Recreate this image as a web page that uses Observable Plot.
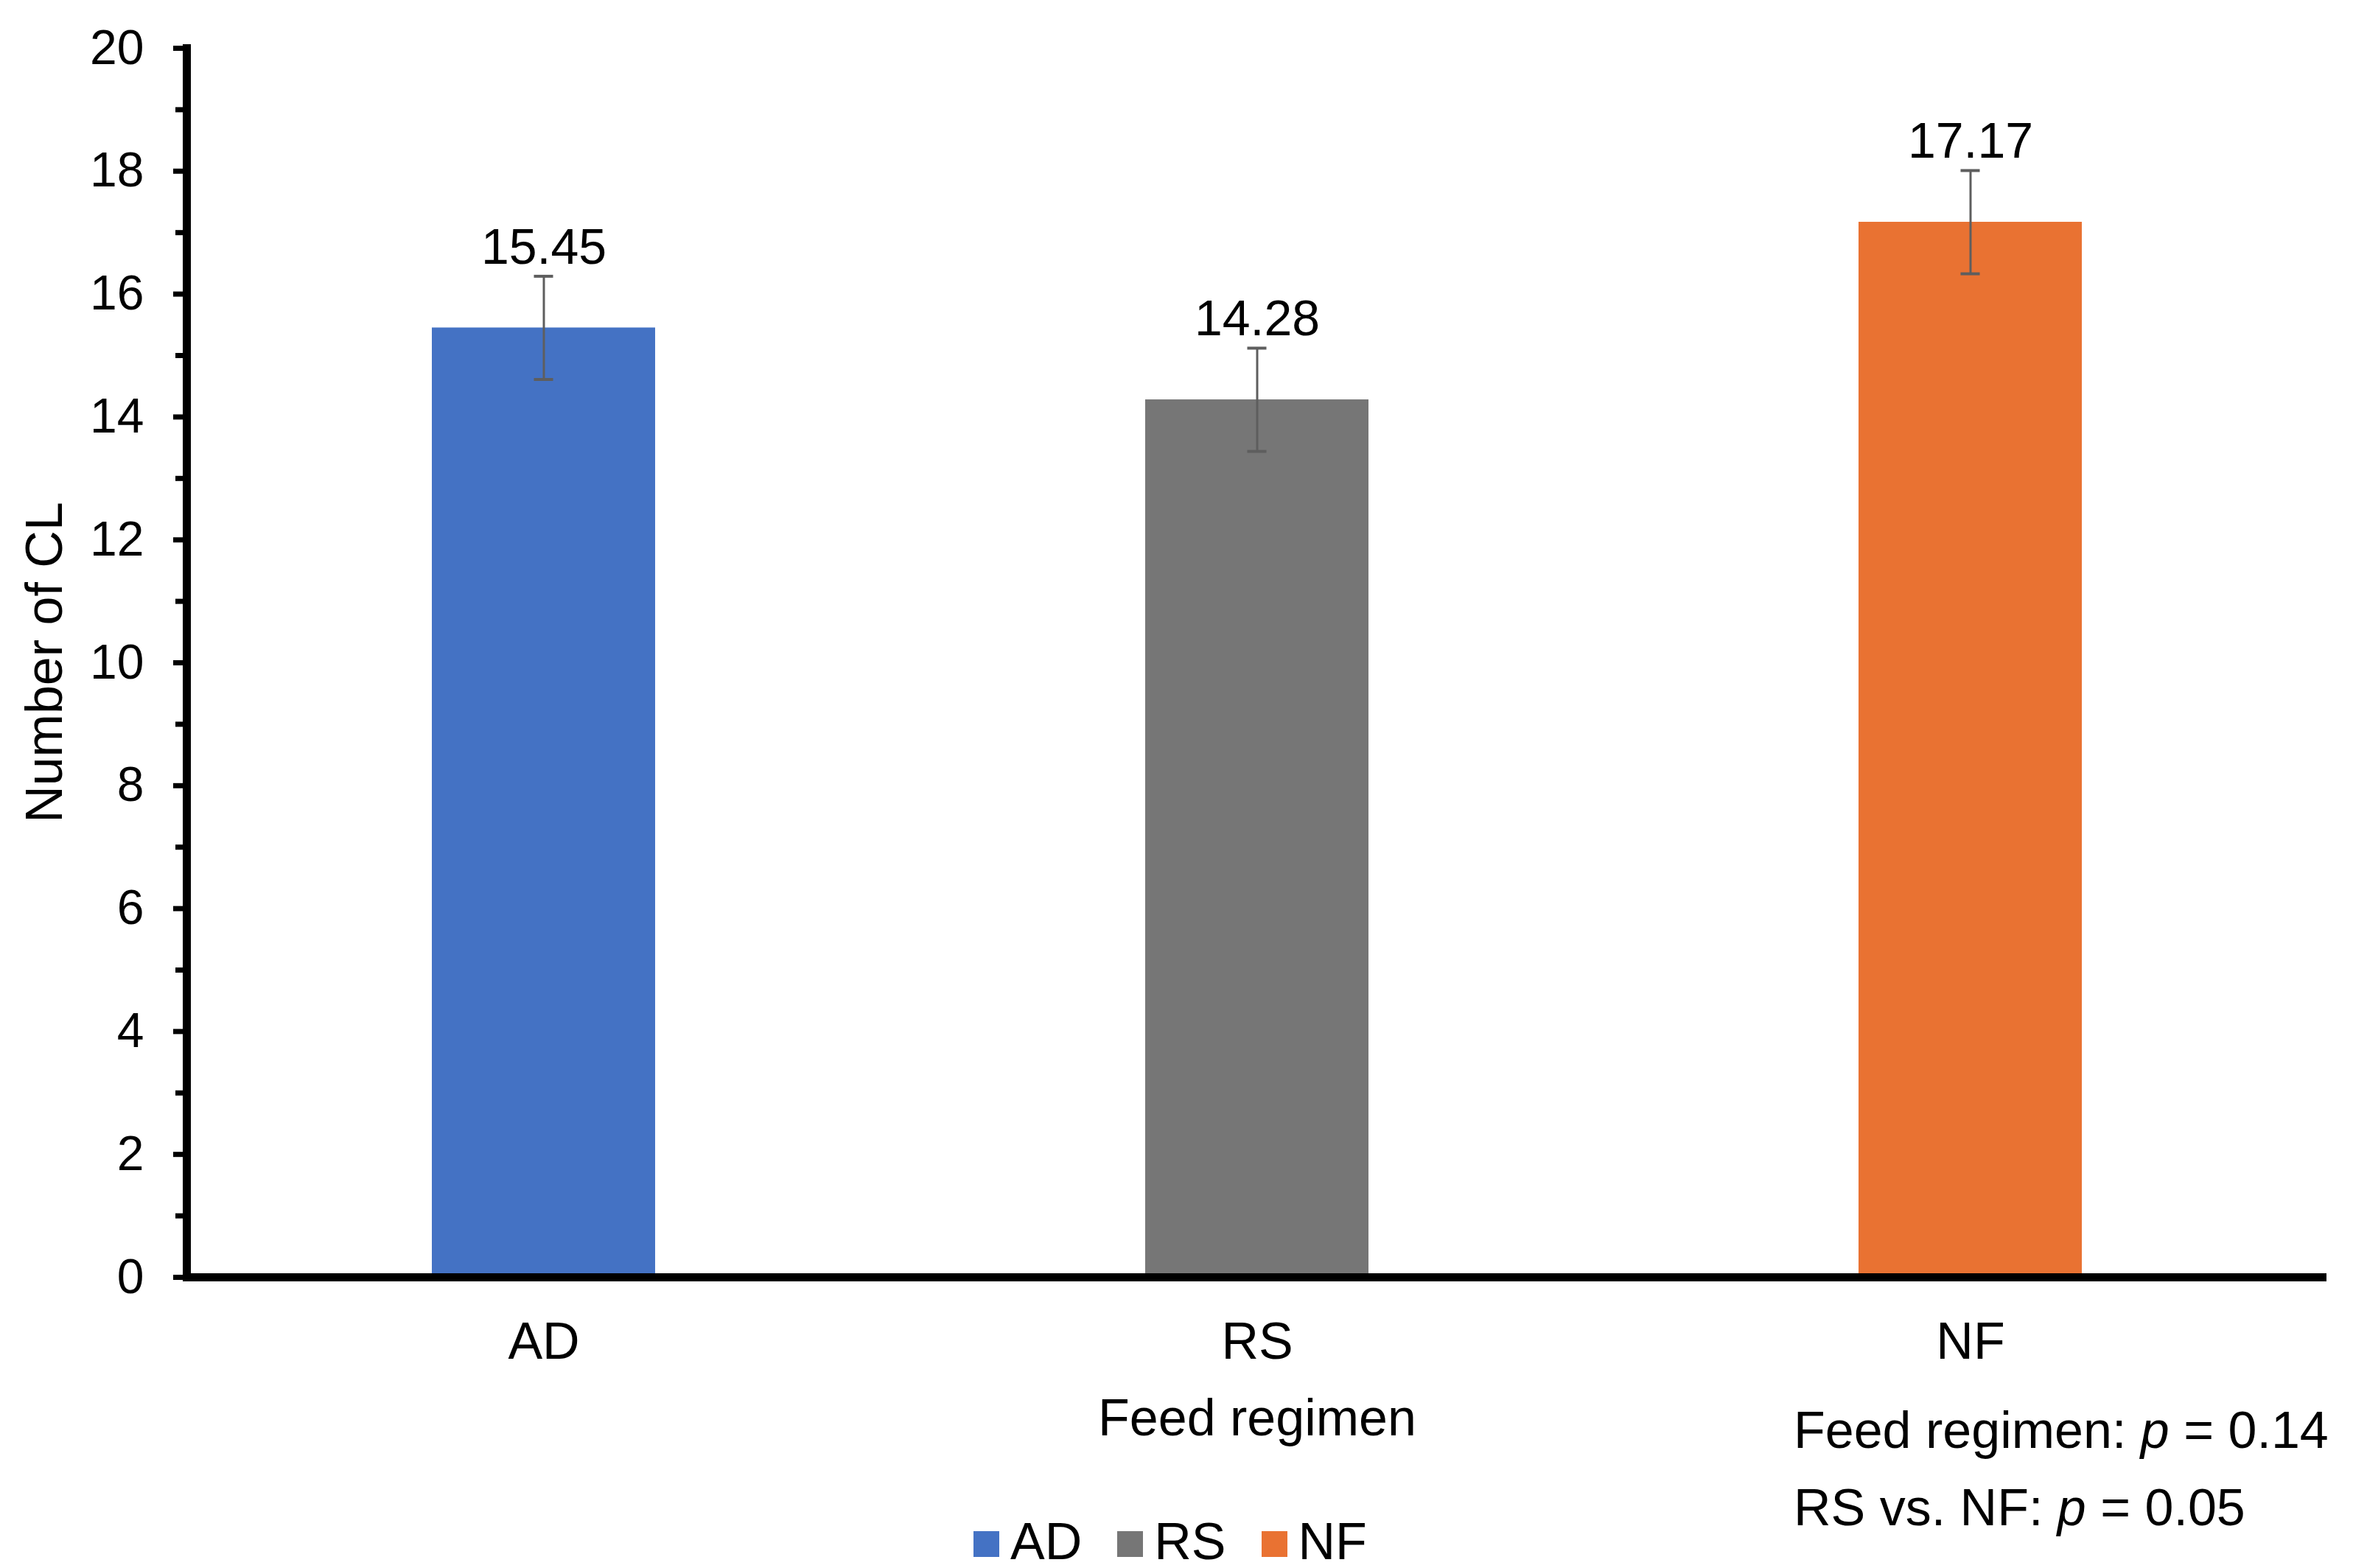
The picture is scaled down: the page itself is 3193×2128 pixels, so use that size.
<!DOCTYPE html>
<html><head><meta charset="utf-8">
<script src="https://cdn.jsdelivr.net/npm/d3@7"></script>
<script src="https://cdn.jsdelivr.net/npm/@observablehq/plot@0.6"></script>
<style>
html,body{margin:0;padding:0;background:#fff;}
#wrap{position:relative;width:3193px;height:2128px;font-family:"Liberation Sans",Arial,sans-serif;color:#000;}
#wrap svg{position:absolute;left:0;top:0;}
.t{position:absolute;font-size:70px;line-height:1;white-space:nowrap;}
.sw{display:inline-block;width:35px;height:35px;vertical-align:3px;margin-right:15px;}
.li{margin-right:48px;}
</style></head><body><div id="wrap"></div>
<script>
// ---- data ----
const categories = ["AD", "RS", "NF"];
const means = [15.45, 14.28, 17.17];
const errors = [0.84, 0.84, 0.84];
const colors = ["#4472C4", "#767676", "#E97232"];
const yMajorTicks = [0, 2, 4, 6, 8, 10, 12, 14, 16, 18, 20];
const yMinorTicks = [1, 3, 5, 7, 9, 11, 13, 15, 17, 19];
const yTitle = "Number of CL";
const xTitle = "Feed regimen";
const statLabels = ["Feed regimen: ", "RS vs. NF: "];
const statValues = ["0.14", "0.05"];

const rows = categories.map((c, i) => ({cat: c, mean: means[i], err: errors[i]}));

// ---- layout ----
const W = 3193, H = 1870;
const mL = 253, mR = 36, mT = 65, mB = H - 1733;
const padInner = 0.687;
const bw = (W - mL - mR) / categories.length * (1 - padInner);
const capW = 26;
const capInset = (bw - capW) / 2;

const chart = Plot.plot({
  width: W, height: H,
  marginLeft: mL, marginRight: mR, marginTop: mT, marginBottom: mB,
  style: {fontFamily: '"Liberation Sans", Arial, sans-serif', color: "black", background: "white", overflow: "visible"},
  x: {type: "band", domain: categories, paddingInner: padInner, paddingOuter: padInner / 2},
  y: {domain: [0, 20]},
  color: {domain: categories, range: colors},
  marks: [
    Plot.barY(rows, {x: "cat", y: "mean", fill: "cat"}),
    Plot.ruleX(rows, {x: "cat", y1: d => d.mean - d.err, y2: d => d.mean + d.err, stroke: "#5e5e5e", strokeWidth: 3}),
    Plot.tickY(rows, {x: "cat", y: d => d.mean + d.err, stroke: "#5e5e5e", strokeWidth: 4, insetLeft: capInset, insetRight: capInset}),
    Plot.tickY(rows, {x: "cat", y: d => d.mean - d.err, stroke: "#5e5e5e", strokeWidth: 4, insetLeft: capInset, insetRight: capInset}),
    Plot.text(rows, {x: "cat", y: d => d.mean + d.err, text: d => d.mean.toFixed(2), dy: -17, lineAnchor: "bottom", fontSize: 68, fill: "black"}),
    Plot.axisY({ticks: yMinorTicks, tickSize: 15, strokeWidth: 7, tickFormat: () => "", label: null}),
    Plot.axisY({ticks: yMajorTicks, tickSize: 18, tickPadding: 40, strokeWidth: 7, fontSize: 66, label: null}),
    Plot.axisX({tickSize: 0, tickPadding: 61, fontSize: 70, label: null}),
    Plot.frame({anchor: "left", strokeWidth: 11, stroke: "black"}),
    Plot.ruleY([0], {strokeWidth: 11, stroke: "black"})
  ]
});

const wrap = document.getElementById("wrap");
wrap.appendChild(chart);

function addText(html, left, top, extra) {
  const d = document.createElement("div");
  d.className = "t";
  d.innerHTML = html;
  d.style.left = left + "px";
  d.style.top = top + "px";
  if (extra) Object.assign(d.style, extra);
  wrap.appendChild(d);
  return d;
}

// y-axis title (rotated)
addText(yTitle, 60, 899, {transform: "translate(-50%,-50%) rotate(-90deg)"});
// x-axis title
addText(xTitle, 1706, 1889, {transform: "translateX(-50%)"});
// statistics
addText(statLabels[0] + "<i>p</i> = " + statValues[0], 2434, 1906);
addText(statLabels[1] + "<i>p</i> = " + statValues[1], 2434, 2011);
// legend (tight line box so the baseline sits at the reference position)
addText(categories.map((c, i) =>
  `<span class="li"><span class="sw" style="background:${colors[i]}"></span>${c}</span>`).join(""), 1321, 2064,
  {lineHeight: "0.8"});
</script></body></html>
